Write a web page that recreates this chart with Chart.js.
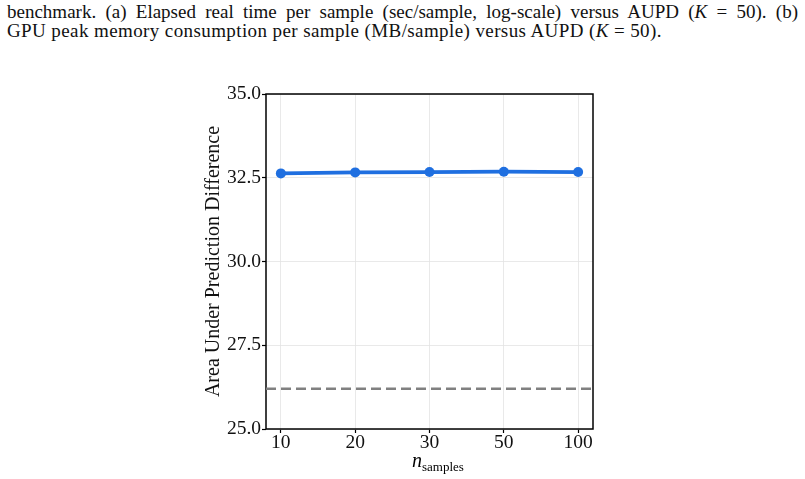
<!DOCTYPE html>
<html>
<head>
<meta charset="utf-8">
<script src="https://cdn.jsdelivr.net/npm/chart.js@4.4.0/dist/chart.umd.min.js"></script>
<style>
    html, body { margin: 0; padding: 0; background: #fff; }
    body { width: 805px; height: 479px; position: relative; overflow: hidden; font-family: "Liberation Serif", "Times New Roman", serif; color: #111; }
    .caption { position: absolute; left: 7px; width: 791px; font-size: 19px; line-height: 19px; letter-spacing: 0.4px; white-space: nowrap; }
    .caption.l1 { top: 2px; text-align: justify; text-align-last: justify; white-space: normal; letter-spacing: 0; }
    .caption.l2 { top: 21px; }
    .xtitle { position: absolute; left: 412px; top: 450px; font-size: 20px; line-height: 20px; color: #000; }
    .xtitle sub { font-size: 13px; vertical-align: -4px; }
    canvas { position: absolute; left: 0; top: 0; }
</style>
</head>
<body>
<div class="caption l1">benchmark. (a) Elapsed real time per sample (sec/sample, log-scale) versus AUPD (<i>K</i> = 50). (b)</div>
<div class="caption l2">GPU peak memory consumption per sample (MB/sample) versus AUPD (<i>K</i> = 50).</div>
<canvas id="chart" width="805" height="479"></canvas>
<div class="xtitle"><i>n</i><sub>samples</sub></div>
<script>
(function () {
    'use strict';

    // ---- data ----
    const xLabels = ['10', '20', '30', '50', '100'];
    const aupdValues = [32.63, 32.66, 32.67, 32.68, 32.67];
    const baselineValue = 26.2;
    const yTicks = [25.0, 27.5, 30.0, 32.5, 35.0];

    const xMin = -0.2;
    const xMax = xLabels.length - 1 + 0.2;

    // frame around the plot area (matplotlib style box)
    const framePlugin = {
        id: 'frame',
        beforeDatasetsDraw(chart) {
            const { ctx, chartArea: a } = chart;
            ctx.save();
            ctx.strokeStyle = '#000';
            ctx.lineWidth = 1.5;
            ctx.strokeRect(a.left, a.top, a.right - a.left, a.bottom - a.top);
            ctx.restore();
        }
    };

    const tickFont = { family: 'Liberation Serif', size: 19.5 };

    new Chart(document.getElementById('chart'), {
        type: 'line',
        data: {
            datasets: [
                {
                    label: 'AUPD',
                    data: aupdValues.map((v, i) => ({ x: i, y: v })),
                    borderColor: '#1f6fe0',
                    backgroundColor: '#1f6fe0',
                    borderWidth: 3.8,
                    pointRadius: 5,
                    pointBorderWidth: 0,
                    pointHoverRadius: 5,
                    tension: 0
                },
                {
                    label: 'baseline',
                    data: [{ x: xMin, y: baselineValue }, { x: xMax, y: baselineValue }],
                    borderColor: '#808080',
                    borderWidth: 2.5,
                    borderDash: [10, 5],
                    pointRadius: 0,
                    tension: 0
                }
            ]
        },
        options: {
            responsive: false,
            animation: false,
            layout: { padding: { left: 202, right: 212, top: 94, bottom: 0 } },
            plugins: {
                legend: { display: false },
                tooltip: { enabled: false }
            },
            scales: {
                x: {
                    type: 'linear',
                    min: xMin,
                    max: xMax,
                    afterBuildTicks: (scale) => { scale.ticks = xLabels.map((_, i) => ({ value: i })); },
                    afterFit: (scale) => { scale.height = 50; },
                    grid: { color: '#e3e3e3', lineWidth: 0.8, tickColor: '#000', tickLength: 4, tickWidth: 1.2 },
                    border: { display: false },
                    ticks: {
                        padding: -2,
                        color: '#111',
                        font: tickFont,
                        callback: (v) => xLabels[v]
                    }
                },
                y: {
                    min: 25,
                    max: 35,
                    afterBuildTicks: (scale) => { scale.ticks = yTicks.map((v) => ({ value: v })); },
                    afterFit: (scale) => { scale.width = 64; },
                    grid: { color: '#e3e3e3', lineWidth: 0.8, tickColor: '#000', tickLength: 4, tickWidth: 1.2 },
                    border: { display: false },
                    ticks: {
                        padding: 1,
                        color: '#111',
                        font: tickFont,
                        callback: (v) => Number(v).toFixed(1)
                    },
                    title: {
                        display: true,
                        text: 'Area Under Prediction Difference',
                        color: '#111',
                        padding: 0,
                        font: { family: 'Liberation Serif', size: 20 }
                    }
                }
            }
        },
        plugins: [framePlugin]
    });
})();
</script>
</body>
</html>
